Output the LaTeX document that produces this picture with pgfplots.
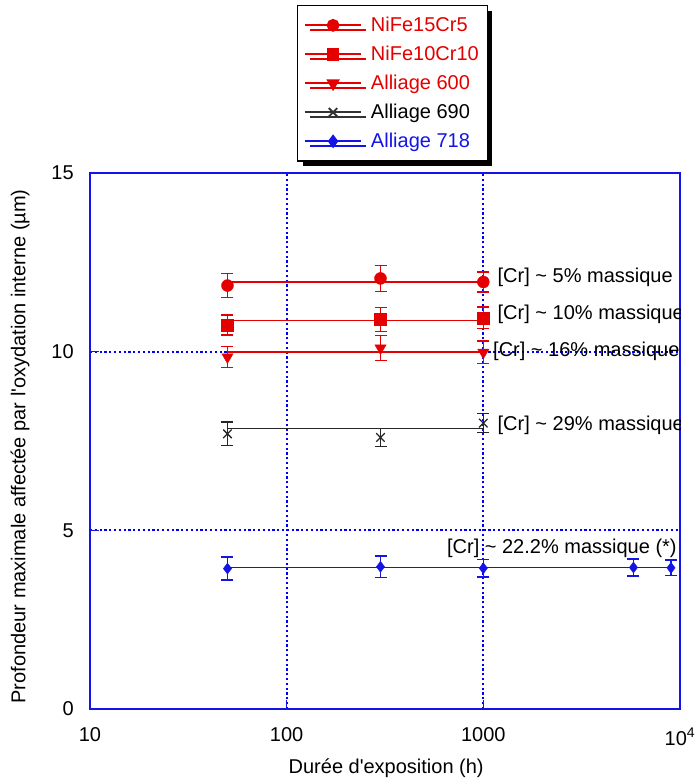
\documentclass[border=0pt]{standalone}
\usepackage{fontspec}
\setmainfont{Liberation Sans}[Ligatures=TeXOff]
\usepackage{pgfplots}
\pgfplotsset{compat=1.18}
\usetikzlibrary{shadows}
\definecolor{myred}{RGB}{228,0,0}
\definecolor{myblue}{RGB}{20,20,230}
\definecolor{gridblue}{RGB}{0,0,240}
\newcommand{\fs}{\fontsize{20pt}{24pt}\selectfont}
\begin{document}
\fs
\begin{tikzpicture}
\path[use as bounding box] (-90pt,-73pt) rectangle (604pt,709pt);
\begin{axis}[
 at={(0pt,0pt)}, anchor=south west,
 scale only axis, width=590pt, height=536pt,
 xmode=log, xmin=10, xmax=10000, ymin=0, ymax=15,
 xtick={10,100,1000,10000}, xticklabels={10,100,1000,10\textsuperscript{4}},
 ytick={0,5,10,15},
 xminorticks=false, yminorticks=false,
 tick pos=left, tick align=inside,
 major tick length=9pt,
 every tick/.style={myblue, line width=1.4pt},
 axis line style={myblue, line width=1.8pt},
 grid=major, major grid style={gridblue, line width=1.7pt, dash pattern=on 2.2pt off 2.6pt},
 /pgf/number format/assume math mode=true,
 ticklabel style={font=\fs},
 xticklabel style={yshift=-12pt},
 yticklabel style={xshift=-9.5pt},
 label style={font=\fs},
 xlabel={Durée d'exposition (h)},
 ylabel={Profondeur maximale affectée par l'oxydation interne (µm)},
 xlabel style={at={(axis description cs:0.502,-0.110)}, anchor=center},
 ylabel style={at={(axis description cs:-0.1186,0.49)}, anchor=center},
 legend style={at={(axis description cs:0.351,1.3134)}, anchor=north west,
   draw=black, line width=1.2pt, fill=white, font=\fs,
   drop shadow={shadow xshift=5pt, shadow yshift=-5pt, opacity=1, fill=black},
   row sep=7.5pt, column sep=7pt, inner xsep=6.5pt, inner ysep=9pt},
 legend cell align=left,
 legend image code/.code={\draw[mark repeat=2,mark phase=2,#1] plot coordinates {(0pt,0pt)(28pt,0pt)(56pt,0pt)};},
]
\addlegendimage{myred, line width=1.8pt, mark=*, mark size=5.5pt}
\addlegendentry{\textcolor{myred}{NiFe15Cr5}}
\addlegendimage{myred, line width=1.8pt, mark=square*, mark size=5.5pt}
\addlegendentry{\textcolor{myred}{NiFe10Cr10}}
\addlegendimage{myred, line width=1.8pt, mark=triangle*, mark size=6pt, mark options={rotate=180}}
\addlegendentry{\textcolor{myred}{Alliage 600}}
\addlegendimage{black!80, line width=1.8pt, mark=x, mark size=6pt}
\addlegendentry{\textcolor{black}{Alliage 690}}
\addlegendimage{myblue, line width=1.8pt, mark=diamond*, mark size=5.5pt}
\addlegendentry{\textcolor{myblue}{Alliage 718}}

% mean lines
\addplot[myred, line width=1.8pt, forget plot] coordinates {(50,11.96)(1000,11.96)};
\addplot[myred, line width=1.8pt, forget plot] coordinates {(50,10.87)(1000,10.87)};
\addplot[myred, line width=1.8pt, forget plot] coordinates {(50,9.98)(1000,9.98)};
\addplot[black!85, line width=1.8pt, forget plot] coordinates {(50,7.85)(1000,7.85)};
\addplot[myblue, line width=1.8pt, forget plot] coordinates {(50,3.96)(9000,3.96)};

% NiFe15Cr5
\addplot[myred, only marks, mark=*, mark size=6pt, forget plot,
  error bars/.cd, y dir=both, y explicit,
  error bar style={line width=1.3pt, myred},
  error mark options={rotate=90, mark size=6pt, line width=1.3pt, myred}]
 coordinates {(50,11.85) +- (0,0.33) (300,12.05) +- (0,0.36) (1000,11.95) +- (0,0.28)};
% NiFe10Cr10
\addplot[myred, only marks, mark=square*, mark size=6pt, forget plot,
  error bars/.cd, y dir=both, y explicit,
  error bar style={line width=1.3pt, myred},
  error mark options={rotate=90, mark size=6pt, line width=1.3pt, myred}]
 coordinates {(50,10.75) +- (0,0.28) (300,10.9) +- (0,0.33) (1000,10.95) +- (0,0.3)};
% Alliage 600
\addplot[myred, only marks, mark=triangle*, mark size=6.5pt, mark options={rotate=180}, forget plot,
  error bars/.cd, y dir=both, y explicit,
  error bar style={line width=1.3pt, myred},
  error mark options={rotate=90, mark size=6pt, line width=1.3pt, myred}]
 coordinates {(50,9.85) +- (0,0.3) (300,10.1) +- (0,0.35) (1000,9.98) +- (0,0.32)};
% Alliage 690
\addplot[black!85, only marks, mark=x, mark size=6pt, line width=1.3pt, forget plot,
  error bars/.cd, y dir=both, y explicit,
  error bar style={line width=1.3pt, black!85},
  error mark options={rotate=90, mark size=6pt, line width=1.3pt, black!85}]
 coordinates {(50,7.7) +- (0,0.33) (300,7.6) +- (0,0.25) (1000,8.0) +- (0,0.27)};
% Alliage 718
\addplot[myblue, only marks, mark=diamond*, mark size=5.5pt, forget plot,
  error bars/.cd, y dir=both, y explicit,
  error bar style={line width=1.3pt, myblue},
  error mark options={rotate=90, mark size=6pt, line width=1.3pt, myblue}]
 coordinates {(50,3.93) +- (0,0.32) (300,3.98) +- (0,0.3) (1000,3.94) +- (0,0.25) (5800,3.96) +- (0,0.24) (9000,3.95) +- (0,0.22)};

\node[anchor=west, font=\fs, inner sep=0pt] at (axis cs:1180,12.09) {[Cr] \textasciitilde\ 5\% massique};
\node[anchor=west, font=\fs, inner sep=0pt] at (axis cs:1180,11.05) {[Cr] \textasciitilde\ 10\% massique};
\node[anchor=west, font=\fs, inner sep=0pt] at (axis cs:1120,10.02) {[Cr] \textasciitilde\ 16\% massique};
\node[anchor=west, font=\fs, inner sep=0pt] at (axis cs:1180,7.95) {[Cr] \textasciitilde\ 29\% massique};
\node[anchor=west, font=\fs, inner sep=0pt] at (axis cs:653,4.5) {[Cr] \textasciitilde\ 22.2\% massique (*)};
\end{axis}
\end{tikzpicture}
\end{document}
